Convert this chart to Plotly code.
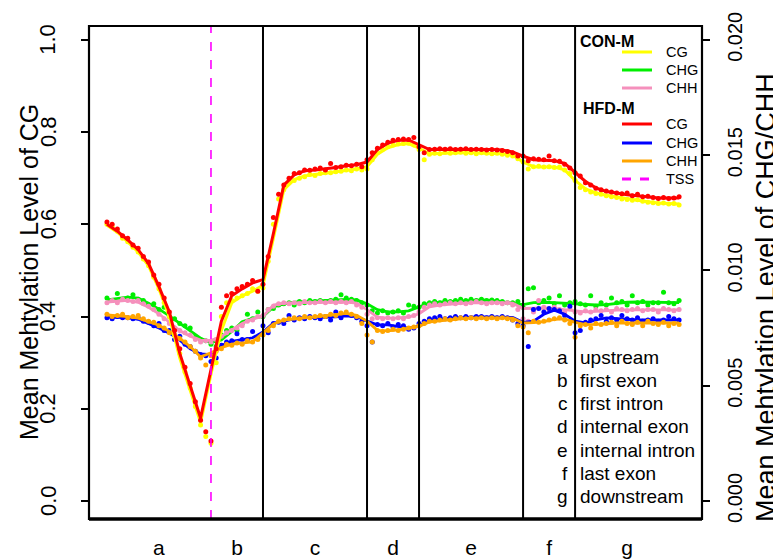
import plotly.graph_objects as go

# ---------------- data ----------------
region_codes = ["a", "b", "c", "d", "e", "f", "g"]
region_names = ["upstream", "first exon", "first intron", "internal exon",
                "internal intron", "last exon", "downstream"]
region_bounds = [0, 40, 60, 100, 120, 160, 180, 220]   # bin positions
tss_bin = 40
dot_step = 2
line_step = 4

# CG (left axis) smoothed lines, bins 0..220 step 4
cg_con_line = [0.598, 0.583, 0.562, 0.540, 0.510, 0.460, 0.400, 0.310, 0.240, 0.170,
               0.275, 0.370, 0.430, 0.445, 0.455, 0.468, 0.570, 0.675, 0.697, 0.705,
               0.708, 0.711, 0.714, 0.717, 0.720, 0.725, 0.752, 0.766, 0.773, 0.775,
               0.765, 0.753, 0.754, 0.755, 0.755, 0.755, 0.754, 0.754, 0.753, 0.750,
               0.735, 0.725, 0.724, 0.724, 0.718, 0.695, 0.677, 0.668, 0.663, 0.659,
               0.655, 0.652, 0.649, 0.646, 0.645, 0.644]
cg_hfd_line = [0.600, 0.585, 0.566, 0.545, 0.515, 0.465, 0.410, 0.320, 0.250, 0.180,
               0.285, 0.390, 0.445, 0.460, 0.473, 0.480, 0.580, 0.685, 0.707, 0.716,
               0.718, 0.720, 0.723, 0.727, 0.729, 0.735, 0.762, 0.776, 0.782, 0.783,
               0.772, 0.762, 0.763, 0.763, 0.763, 0.763, 0.762, 0.762, 0.761, 0.757,
               0.748, 0.740, 0.739, 0.738, 0.732, 0.712, 0.693, 0.679, 0.671, 0.668,
               0.664, 0.662, 0.659, 0.657, 0.657, 0.657]

# CG per-bin points, bins 0..220 step 2
cg_con_pts = [0.600, 0.595, 0.585, 0.570, 0.562, 0.550, 0.540, 0.525, 0.510, 0.485,
              0.460, 0.430, 0.400, 0.360, 0.320, 0.280, 0.245, 0.205, 0.165, 0.140,
              0.125, 0.300, 0.400, 0.430, 0.435, 0.440, 0.445, 0.450, 0.460, 0.455,
              0.462, 0.520, 0.600, 0.655, 0.675, 0.690, 0.695, 0.700, 0.703, 0.708,
              0.706, 0.710, 0.712, 0.712, 0.714, 0.715, 0.718, 0.716, 0.720, 0.718,
              0.720, 0.740, 0.755, 0.763, 0.768, 0.772, 0.774, 0.775, 0.776, 0.772,
              0.762, 0.740, 0.752, 0.754, 0.753, 0.756, 0.754, 0.755, 0.756, 0.754,
              0.755, 0.753, 0.755, 0.754, 0.753, 0.754, 0.752, 0.750, 0.748, 0.742,
              0.735, 0.720, 0.725, 0.726, 0.724, 0.725, 0.723, 0.724, 0.718, 0.710,
              0.695, 0.680, 0.675, 0.670, 0.667, 0.665, 0.662, 0.660, 0.658, 0.655,
              0.654, 0.652, 0.653, 0.650, 0.648, 0.647, 0.645, 0.646, 0.644, 0.645,
              0.642]
cg_hfd_pts = [0.605, 0.600, 0.590, 0.575, 0.570, 0.555, 0.548, 0.530, 0.518, 0.490,
              0.470, 0.440, 0.410, 0.370, 0.330, 0.290, 0.255, 0.215, 0.175, 0.150,
              0.130, 0.330, 0.420, 0.445, 0.450, 0.460, 0.465, 0.470, 0.478, 0.455,
              0.470, 0.530, 0.615, 0.665, 0.685, 0.700, 0.710, 0.712, 0.718, 0.717,
              0.720, 0.722, 0.718, 0.732, 0.723, 0.725, 0.728, 0.727, 0.730, 0.725,
              0.740, 0.755, 0.765, 0.772, 0.778, 0.782, 0.784, 0.785, 0.784, 0.788,
              0.768, 0.755, 0.762, 0.763, 0.764, 0.763, 0.764, 0.762, 0.763, 0.764,
              0.762, 0.763, 0.762, 0.761, 0.762, 0.761, 0.760, 0.758, 0.755, 0.748,
              0.748, 0.738, 0.742, 0.741, 0.740, 0.748, 0.738, 0.737, 0.730, 0.722,
              0.712, 0.705, 0.690, 0.685, 0.678, 0.675, 0.672, 0.670, 0.668, 0.666,
              0.668, 0.662, 0.665, 0.660, 0.661, 0.658, 0.656, 0.658, 0.656, 0.657,
              0.660]

# CHG / CHH (right axis), values in per-mille (x 1e-3)
chg_con_line_pm = [8.72, 8.78, 8.84, 8.80, 8.58, 8.32, 8.03, 7.70, 7.38, 7.06,
                   6.87, 6.98, 7.35, 7.77, 7.92, 8.00, 8.42, 8.55, 8.62, 8.64,
                   8.66, 8.68, 8.70, 8.74, 8.72, 8.55, 8.30, 8.20, 8.20, 8.25,
                   8.42, 8.58, 8.62, 8.64, 8.68, 8.70, 8.72, 8.70, 8.65, 8.60,
                   8.52, 8.60, 8.62, 8.60, 8.58, 8.57, 8.55, 8.50, 8.52, 8.57,
                   8.62, 8.63, 8.62, 8.60, 8.60, 8.60]
chh_con_line_pm = [8.63, 8.66, 8.70, 8.62, 8.40, 8.12, 7.75, 7.38, 7.15, 6.98,
                   6.97, 7.12, 7.42, 7.70, 7.90, 8.00, 8.50, 8.58, 8.59, 8.60,
                   8.60, 8.61, 8.62, 8.63, 8.58, 8.30, 7.97, 7.93, 7.94, 7.98,
                   8.12, 8.42, 8.50, 8.55, 8.57, 8.59, 8.60, 8.60, 8.60, 8.58,
                   8.35, 8.36, 8.37, 8.34, 8.30, 8.25, 8.20, 8.22, 8.26, 8.28,
                   8.29, 8.29, 8.29, 8.29, 8.29, 8.29]
chg_hfd_line_pm = [7.98, 7.97, 7.95, 7.88, 7.70, 7.50, 7.28, 6.98, 6.60, 6.38,
                   6.35, 6.75, 6.92, 7.00, 7.08, 7.33, 7.72, 7.80, 7.90, 7.95,
                   7.96, 7.97, 7.99, 8.03, 8.00, 7.80, 7.64, 7.64, 7.58, 7.50,
                   7.58, 7.85, 7.90, 7.93, 7.95, 7.97, 7.98, 7.98, 7.98, 7.96,
                   7.75, 7.80, 8.10, 8.28, 8.10, 7.80, 7.72, 7.85, 7.94, 7.90,
                   7.87, 7.85, 7.85, 7.85, 7.85, 7.85]
chh_hfd_line_pm = [8.07, 8.05, 8.00, 7.93, 7.78, 7.62, 7.35, 7.05, 6.70, 6.25,
                   6.43, 6.65, 6.80, 6.86, 6.90, 7.29, 7.68, 7.85, 7.90, 7.95,
                   7.98, 8.02, 8.07, 8.14, 8.05, 7.80, 7.40, 7.38, 7.42, 7.48,
                   7.57, 7.77, 7.82, 7.86, 7.90, 7.93, 7.94, 7.94, 7.94, 7.93,
                   7.72, 7.74, 7.78, 7.88, 7.90, 7.75, 7.65, 7.66, 7.70, 7.72,
                   7.72, 7.72, 7.72, 7.72, 7.72, 7.72]

chg_con_pts_pm = [8.80, 8.70, 9.00, 8.75, 8.80, 8.95, 8.75, 8.70, 8.50, 8.55,
                  8.30, 8.40, 8.00, 7.90, 7.70, 7.60, 7.50, 7.10, 7.00, 6.95,
                  6.80, 6.70, 7.20, 7.40, 7.50, 7.40, 7.70, 8.10, 7.90, 8.20,
                  8.00, 8.30, 8.35, 8.50, 8.55, 8.60, 8.50, 8.65, 8.60, 8.70,
                  8.65, 8.70, 8.65, 8.70, 8.75, 8.95, 8.80, 8.75, 8.70, 8.60,
                  8.50, 8.25, 8.15, 8.25, 8.15, 8.20, 8.25, 8.15, 8.50, 8.45,
                  8.40, 8.55, 8.60, 8.65, 8.60, 8.70, 8.65, 8.70, 8.75, 8.70,
                  8.75, 8.70, 8.75, 8.70, 8.72, 8.70, 8.65, 8.60, 8.60, 8.65,
                  8.40, 9.20, 9.25, 8.60, 8.70, 8.80, 8.55, 8.90, 8.50, 8.60,
                  8.65, 8.55, 8.50, 8.90, 8.45, 8.60, 8.50, 8.80, 8.60, 8.65,
                  8.50, 8.90, 8.60, 8.65, 8.50, 8.60, 8.60, 9.05, 8.60, 8.55,
                  8.70]
chh_con_pts_pm = [8.60, 8.70, 8.60, 8.75, 8.70, 8.65, 8.70, 8.55, 8.45, 8.30,
                  8.10, 7.90, 7.70, 7.50, 7.40, 7.30, 7.20, 7.00, 6.90, 6.95,
                  6.90, 7.00, 7.15, 7.30, 7.40, 7.50, 7.60, 7.80, 7.85, 8.00,
                  8.05, 8.30, 8.45, 8.55, 8.60, 8.55, 8.60, 8.55, 8.65, 8.60,
                  8.60, 8.65, 8.60, 8.65, 8.60, 8.65, 8.60, 8.65, 8.50, 8.40,
                  8.10, 7.90, 7.95, 7.90, 7.95, 7.90, 7.95, 7.90, 8.00, 8.05,
                  8.20, 8.40, 8.50, 8.55, 8.50, 8.55, 8.60, 8.55, 8.60, 8.55,
                  8.60, 8.65, 8.60, 8.55, 8.60, 8.60, 8.55, 8.60, 8.50, 8.30,
                  7.90, 7.80, 8.20, 8.70, 8.40, 8.30, 8.40, 8.30, 8.20, 8.35,
                  8.20, 8.15, 8.25, 8.20, 8.30, 8.25, 8.30, 8.20, 8.35, 8.30,
                  8.25, 8.30, 8.35, 8.25, 8.30, 8.30, 8.20, 8.35, 8.30, 8.25,
                  8.30]
chg_hfd_pts_pm = [7.95, 7.90, 8.00, 7.95, 7.95, 7.90, 7.95, 7.80, 7.75, 7.60,
                  7.70, 7.40, 7.40, 7.00, 7.15, 6.80, 6.70, 6.50, 6.35, 6.30,
                  6.05, 6.20, 6.75, 6.90, 6.95, 7.25, 7.00, 7.00, 7.35, 7.05,
                  7.60, 7.30, 7.70, 7.75, 7.70, 8.05, 7.85, 7.95, 7.90, 8.00,
                  7.95, 7.90, 8.00, 7.85, 8.20, 7.95, 8.10, 8.05, 7.95, 7.80,
                  7.60, 6.90, 7.65, 7.60, 7.70, 7.55, 7.65, 7.60, 7.45, 7.50,
                  7.70, 7.80, 7.90, 7.95, 8.00, 7.90, 7.95, 8.00, 7.95, 8.00,
                  7.95, 8.00, 8.00, 7.95, 8.00, 7.95, 8.00, 7.95, 7.85, 7.70,
                  7.60, 6.70, 8.30, 8.35, 8.20, 8.35, 8.30, 8.25, 8.05, 8.45,
                  7.30, 7.40, 7.75, 7.85, 7.90, 8.05, 7.80, 7.95, 7.85, 8.05,
                  7.90, 7.85, 7.95, 7.80, 7.85, 7.90, 7.80, 7.85, 8.00, 7.90,
                  7.85]
chh_hfd_pts_pm = [8.10, 8.00, 8.05, 8.10, 7.95, 8.00, 8.05, 7.90, 7.80, 7.75,
                  7.60, 7.50, 7.30, 7.20, 7.05, 6.90, 6.70, 6.50, 6.20, 5.90,
                  6.30, 6.50, 6.60, 6.80, 6.75, 6.85, 6.80, 6.95, 6.90, 7.00,
                  7.20, 7.40, 7.60, 7.80, 7.85, 7.90, 7.95, 7.90, 8.00, 7.95,
                  8.00, 8.05, 8.00, 8.10, 8.05, 8.15, 8.20, 8.10, 8.00, 7.70,
                  7.20, 6.90, 7.40, 7.35, 7.40, 7.45, 7.40, 7.45, 7.50, 7.55,
                  7.60, 7.70, 7.80, 7.80, 7.85, 7.90, 7.85, 7.90, 7.95, 7.90,
                  7.95, 7.90, 7.95, 7.90, 7.95, 7.90, 7.95, 7.90, 7.85, 7.60,
                  7.55, 7.30, 7.80, 7.75, 7.80, 7.85, 7.90, 7.95, 7.85, 7.70,
                  7.10, 7.60, 7.65, 7.50, 7.70, 7.65, 7.70, 7.75, 7.60, 7.80,
                  7.70, 7.65, 7.75, 7.60, 7.80, 7.70, 7.65, 7.75, 7.60, 7.70,
                  7.65]

cg_ticks = [0.0, 0.2, 0.4, 0.6, 0.8, 1.0]
chx_ticks = [0.000, 0.005, 0.010, 0.015, 0.020]

# ---------------- figure ----------------
# the page body adds an 8px offset, so the figure is 8px smaller and every
# position below (given in the 781x559 screen frame) is shifted by -8.
OFF = 8
W, H = 781 - OFF, 559 - OFF
L, R, T, B = 89, 702, 26, 519          # plot box in screen pixels
FONT = "Liberation Sans, Arial, Helvetica, sans-serif"


def px(x):
    return (x - L) / (R - L)


def py(y):
    return (B - y) / (B - T)


def bins(vals, step):
    return [i * step for i in range(len(vals))]


def pm(vals):
    return [v / 1000.0 for v in vals]


COL = {"cg_con": "#FFFF00", "chg_con": "#00EE00", "chh_con": "#F590BC",
       "cg_hfd": "#FF0000", "chg_hfd": "#0000FF", "chh_hfd": "#FFA500",
       "tss": "#FF00FF"}

fig = go.Figure()

# CHG / CHH on the right axis ("y"), drawn first (underneath)
for key, pts, line in [("chg_con", chg_con_pts_pm, chg_con_line_pm),
                       ("chh_con", chh_con_pts_pm, chh_con_line_pm),
                       ("chg_hfd", chg_hfd_pts_pm, chg_hfd_line_pm),
                       ("chh_hfd", chh_hfd_pts_pm, chh_hfd_line_pm)]:
    fig.add_trace(go.Scatter(x=bins(pts, dot_step), y=pm(pts), mode="markers",
                             marker=dict(color=COL[key], size=5), yaxis="y",
                             showlegend=False, hoverinfo="skip"))
    fig.add_trace(go.Scatter(x=bins(line, line_step), y=pm(line), mode="lines",
                             line=dict(color=COL[key], width=2.8), yaxis="y",
                             showlegend=False, hoverinfo="skip"))

# CG on the left axis ("y2", overlaid on top)
for key, pts, line in [("cg_con", cg_con_pts, cg_con_line),
                       ("cg_hfd", cg_hfd_pts, cg_hfd_line)]:
    fig.add_trace(go.Scatter(x=bins(pts, dot_step), y=pts, mode="markers",
                             marker=dict(color=COL[key], size=5), yaxis="y2",
                             showlegend=False, hoverinfo="skip"))
    fig.add_trace(go.Scatter(x=bins(line, line_step), y=line, mode="lines",
                             line=dict(color=COL[key], width=3), yaxis="y2",
                             showlegend=False, hoverinfo="skip"))

cg_range = [-0.039, 1.03]
chx_range = [cg_range[0] * 0.02, cg_range[1] * 0.02]

shapes = []
# region boundaries
for b in region_bounds[2:-1]:
    shapes.append(dict(type="line", xref="x", yref="paper", x0=b, x1=b, y0=0, y1=1,
                       line=dict(color="black", width=2)))
# TSS
shapes.append(dict(type="line", xref="x", yref="paper", x0=tss_bin, x1=tss_bin, y0=0, y1=1,
                   line=dict(color=COL["tss"], width=1.6, dash="dash")))
# box
shapes.append(dict(type="rect", xref="paper", yref="paper", x0=0, x1=1, y0=0, y1=1,
                   line=dict(color="black", width=2.2)))
shapes.append(dict(type="line", xref="paper", yref="paper", x0=0, x1=1, y0=0, y1=0,
                   line=dict(color="black", width=3.4)))

annotations = []
# left axis tick labels (placed on the CG axis scale, parallel to the axis)
for v in cg_ticks:
    annotations.append(dict(xref="paper", yref="y2", x=px(48), y=v, text="%.1f" % v,
                            textangle=-90, showarrow=False, xanchor="center",
                            yanchor="middle", font=dict(family=FONT, size=22, color="black")))

# legend
leg_rows = [("CON-M", None, 41, True), ("CG", "cg_con", 52, False),
            ("CHG", "chg_con", 70, False), ("CHH", "chh_con", 88, False),
            ("HFD-M", None, 108, True), ("CG", "cg_hfd", 124, False),
            ("CHG", "chg_hfd", 143, False), ("CHH", "chh_hfd", 161, False),
            ("TSS", "tss", 179, False)]
for text, key, yy, header in leg_rows:
    if header:
        annotations.append(dict(xref="paper", yref="paper", x=px(578 if text == "CON-M" else 581),
                                y=py(yy), text="<b>%s</b>" % text, showarrow=False,
                                xanchor="left", yanchor="middle",
                                font=dict(family=FONT, size=16, color="black")))
    else:
        shapes.append(dict(type="line", xref="paper", yref="paper", x0=px(622), x1=px(652),
                           y0=py(yy), y1=py(yy),
                           line=dict(color=COL[key], width=3,
                                     dash="dash" if key == "tss" else "solid")))
        annotations.append(dict(xref="paper", yref="paper", x=px(664), y=py(yy), text=text,
                                showarrow=False, xanchor="left", yanchor="middle",
                                font=dict(family=FONT, size=14.5, color="black")))

# region key
for i, (c, n) in enumerate(zip(region_codes, region_names)):
    yy = 357 + i * 23.3
    annotations.append(dict(xref="paper", yref="paper", x=px(570), y=py(yy), text=c,
                            showarrow=False, xanchor="right", yanchor="middle",
                            font=dict(family=FONT, size=19, color="black")))
    annotations.append(dict(xref="paper", yref="paper", x=px(578), y=py(yy), text=n,
                            showarrow=False, xanchor="left", yanchor="middle",
                            font=dict(family=FONT, size=19, color="black")))

# axis titles
annotations.append(dict(xref="paper", yref="paper", x=px(29), y=py(272), textangle=-90,
                        text="Mean Mehtylation Level of CG", showarrow=False,
                        xanchor="center", yanchor="middle",
                        font=dict(family=FONT, size=25, color="black")))
annotations.append(dict(xref="paper", yref="paper", x=px(766), y=py(298), textangle=-90,
                        text="Mean Mehtylation Level of CHG/CHH", showarrow=False,
                        xanchor="center", yanchor="middle",
                        font=dict(family=FONT, size=27, color="black")))

region_centers = [(region_bounds[i] + region_bounds[i + 1]) / 2 for i in range(len(region_codes))]

fig.update_layout(
    width=W, height=H,
    margin=dict(l=L - OFF, r=W - (R - OFF), t=T - OFF, b=H - (B - OFF), pad=0,
                autoexpand=False),
    paper_bgcolor="white", plot_bgcolor="white",
    showlegend=False,
    font=dict(family=FONT, color="black"),
    xaxis=dict(range=[-6.9, 228.8], tickmode="array", tickvals=region_centers,
               ticktext=region_codes, ticks="", showgrid=False, zeroline=False,
               showline=False, tickfont=dict(size=21), ticklabelstandoff=14,
               automargin=False),
    yaxis=dict(side="right", range=chx_range, tickmode="array", tickvals=chx_ticks,
               ticktext=["%.3f" % v for v in chx_ticks], ticks="outside", ticklen=7,
               tickwidth=1.5, tickcolor="black", tickangle=-90, showgrid=False,
               zeroline=False, showline=False, tickfont=dict(size=20),
               ticklabelstandoff=8, automargin=False),
    yaxis2=dict(side="left", overlaying="y", range=cg_range, tickmode="array",
                tickvals=cg_ticks, ticks="outside", ticklen=7, tickwidth=1.5,
                tickcolor="black", showticklabels=False, showgrid=False,
                zeroline=False, showline=False, automargin=False),
    shapes=shapes,
    annotations=annotations,
)

fig.write_html("out.html")
